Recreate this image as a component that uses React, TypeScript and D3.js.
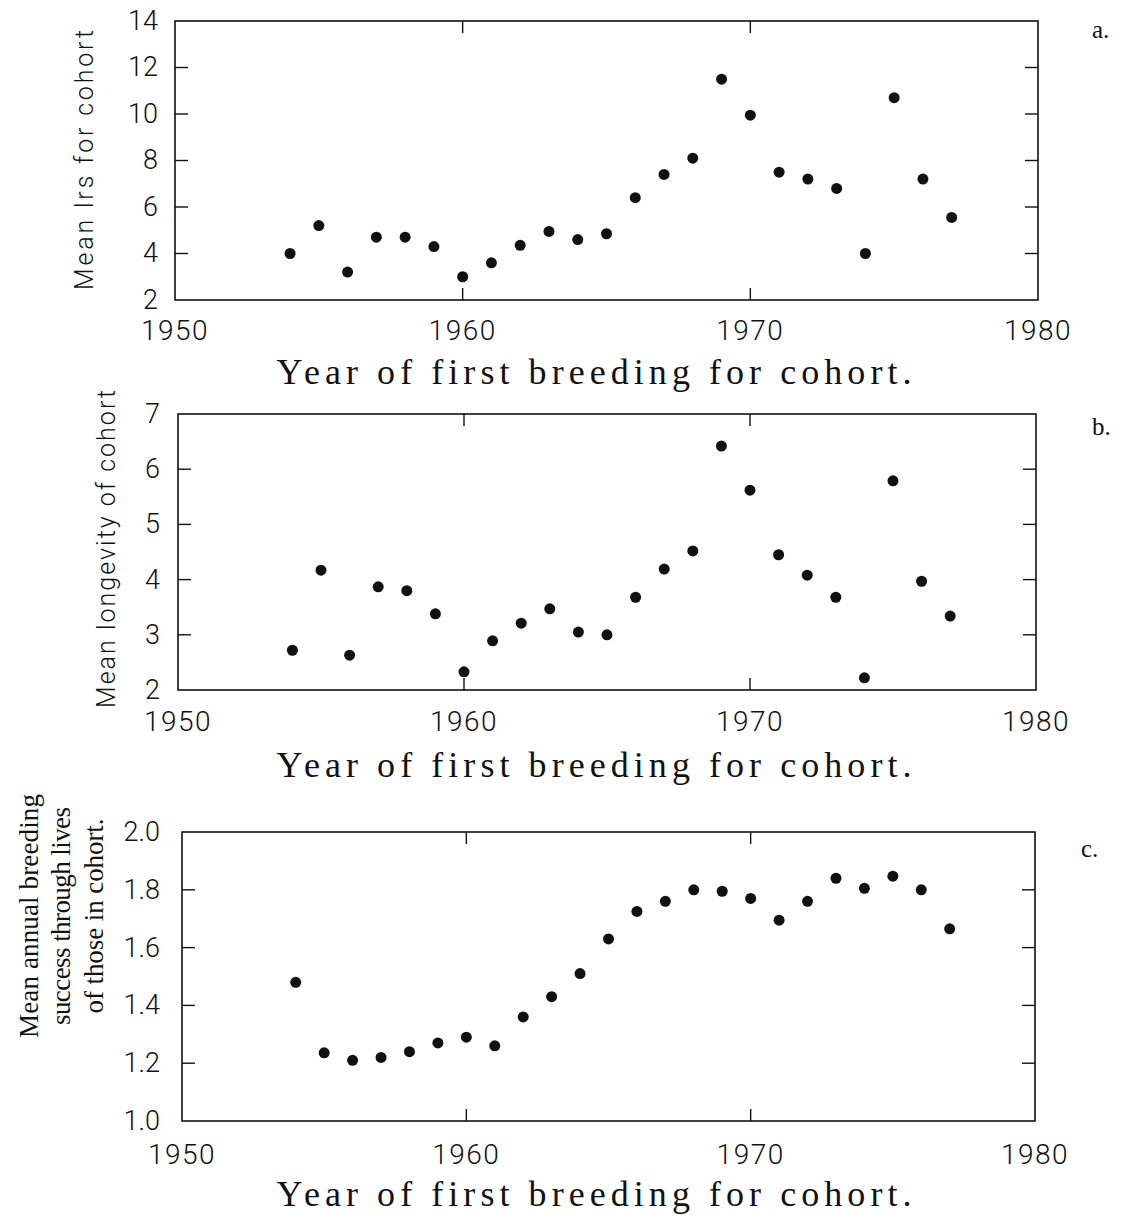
import React from "react";
import * as d3 from "d3";

// cohort years (x) and the three measured series
const years = [
  1954, 1955, 1956, 1957, 1958, 1959, 1960, 1961, 1962, 1963, 1964, 1965,
  1966, 1967, 1968, 1969, 1970, 1971, 1972, 1973, 1974, 1975, 1976, 1977,
];
const lrsValues = [
  4.0, 5.2, 3.2, 4.7, 4.7, 4.3, 3.0, 3.6, 4.35, 4.95, 4.6, 4.85,
  6.4, 7.4, 8.1, 11.5, 9.95, 7.5, 7.2, 6.8, 4.0, 10.7, 7.2, 5.55,
];
const longevityValues = [
  2.72, 4.17, 2.63, 3.87, 3.8, 3.38, 2.33, 2.89, 3.21, 3.47, 3.05, 3.0,
  3.68, 4.19, 4.52, 6.42, 5.62, 4.45, 4.08, 3.68, 2.22, 5.79, 3.97, 3.34,
];
const breedingValues = [
  1.48, 1.236, 1.21, 1.22, 1.24, 1.27, 1.29, 1.26, 1.36, 1.43, 1.51, 1.63,
  1.725, 1.76, 1.8, 1.795, 1.77, 1.695, 1.76, 1.84, 1.805, 1.847, 1.8, 1.665,
];

const xTicks = [1950, 1960, 1970, 1980];
const lrsTicks = [2, 4, 6, 8, 10, 12, 14];
const longevityTicks = [2, 3, 4, 5, 6, 7];
const breedingTicks = [1.0, 1.2, 1.4, 1.6, 1.8, 2.0];

const xTitle = "Year of first breeding for cohort.";

const SANS = "Roboto, 'Liberation Sans', sans-serif";
const SERIF = "'Liberation Serif', serif";

const panels = [
  {
    key: "a",
    values: lrsValues,
    yDomain: [2, 14],
    yTicks: lrsTicks,
    fmt: d3.format("d"),
    box: { left: 175, right: 1038, top: 21, bottom: 300 },
    yLabelRight: 158,
    xLabelBase: 340,
    xTitleBase: 384,
    yTitle: { font: SANS, size: 25, cy: 160, lens: [260], lines: ["Mean lrs for cohort"], xs: [93] },
    label: { text: "a.", x: 1092, y: 38 },
  },
  {
    key: "b",
    values: longevityValues,
    yDomain: [2, 7],
    yTicks: longevityTicks,
    fmt: d3.format("d"),
    box: { left: 178, right: 1036, top: 414, bottom: 690 },
    yLabelRight: 160,
    xLabelBase: 731,
    xTitleBase: 777,
    yTitle: { font: SANS, size: 25, cy: 549, lens: [318], lines: ["Mean longevity of cohort"], xs: [115] },
    label: { text: "b.", x: 1092, y: 435 },
  },
  {
    key: "c",
    values: breedingValues,
    yDomain: [1, 2],
    yTicks: breedingTicks,
    fmt: d3.format(".1f"),
    box: { left: 182, right: 1035, top: 832, bottom: 1121 },
    yLabelRight: 160,
    xLabelBase: 1164,
    xTitleBase: 1206,
    yTitle: {
      font: SERIF,
      size: 27,
      cy: 916,
      lens: [244, 218, 195],
      lines: ["Mean annual breeding", "success through lives", "of those in cohort."],
      xs: [38, 70, 103],
    },
    label: { text: "c.", x: 1081, y: 857 },
  },
];

function Panel({ p }) {
  const { box } = p;
  const x = d3.scaleLinear().domain([1950, 1980]).range([box.left, box.right]);
  const y = d3.scaleLinear().domain(p.yDomain).range([box.bottom, box.top]);
  const tick = 13;
  const inner = p.yTicks.slice(1, -1);
  const innerX = xTicks.slice(1, -1);

  return (
    <g>
      <rect
        x={box.left}
        y={box.top}
        width={box.right - box.left}
        height={box.bottom - box.top}
        fill="none"
        stroke="#111"
        strokeWidth={1.6}
      />
      {inner.map((t) => (
        <g key={"y" + t} stroke="#111" strokeWidth={1.4}>
          <line x1={box.left} x2={box.left + tick} y1={y(t)} y2={y(t)} />
          <line x1={box.right} x2={box.right - tick} y1={y(t)} y2={y(t)} />
        </g>
      ))}
      {innerX.map((t) => (
        <g key={"x" + t} stroke="#111" strokeWidth={1.4}>
          <line x1={x(t)} x2={x(t)} y1={box.bottom} y2={box.bottom - 12} />
          <line x1={x(t)} x2={x(t)} y1={box.top} y2={box.top + 12} />
        </g>
      ))}
      {p.yTicks.map((t) => (
        <text
          key={"yl" + t}
          x={p.yLabelRight}
          y={y(t)}
          dy="0.33em"
          textAnchor="end"
          fontFamily={SANS}
          fontWeight={300}
          fontSize={27}
          fill="#111"
        >
          {p.fmt(t)}
        </text>
      ))}
      {xTicks.map((t) => (
        <text
          key={"xl" + t}
          x={x(t)}
          y={p.xLabelBase}
          textAnchor="middle"
          fontFamily={SANS}
          fontWeight={300}
          fontSize={28}
          fill="#111"
          letterSpacing={1.5}
        >
          {t}
        </text>
      ))}
      {years.map((yr, i) => (
        <circle key={yr} cx={x(yr)} cy={y(p.values[i])} r={5.5} fill="#111" />
      ))}
      <text
        x={594}
        y={p.xTitleBase}
        textAnchor="middle"
        fontFamily={SERIF}
        fontSize={36}
        fill="#111"
        textLength={635}
        lengthAdjust="spacing"
      >
        {xTitle}
      </text>
      {p.yTitle.lines.map((line, i) => (
        <text
          key={line}
          transform={`translate(${p.yTitle.xs[i]},${p.yTitle.cy}) rotate(-90)`}
          textAnchor="middle"
          fontFamily={p.yTitle.font}
          fontWeight={p.yTitle.font === SANS ? 300 : 400}
          fontSize={p.yTitle.size}
          fill="#111"
          textLength={p.yTitle.lens[i]}
          lengthAdjust="spacing"
        >
          {line}
        </text>
      ))}
      <text x={p.label.x} y={p.label.y} fontFamily={SERIF} fontSize={25} fill="#111">
        {p.label.text}
      </text>
    </g>
  );
}

export default function App() {
  return (
    <svg
      width={1130}
      height={1221}
      style={{ position: "absolute", left: 0, top: 0, background: "#fff" }}
    >
      <rect width={1130} height={1221} fill="#fff" />
      {panels.map((p) => (
        <Panel key={p.key} p={p} />
      ))}
    </svg>
  );
}
